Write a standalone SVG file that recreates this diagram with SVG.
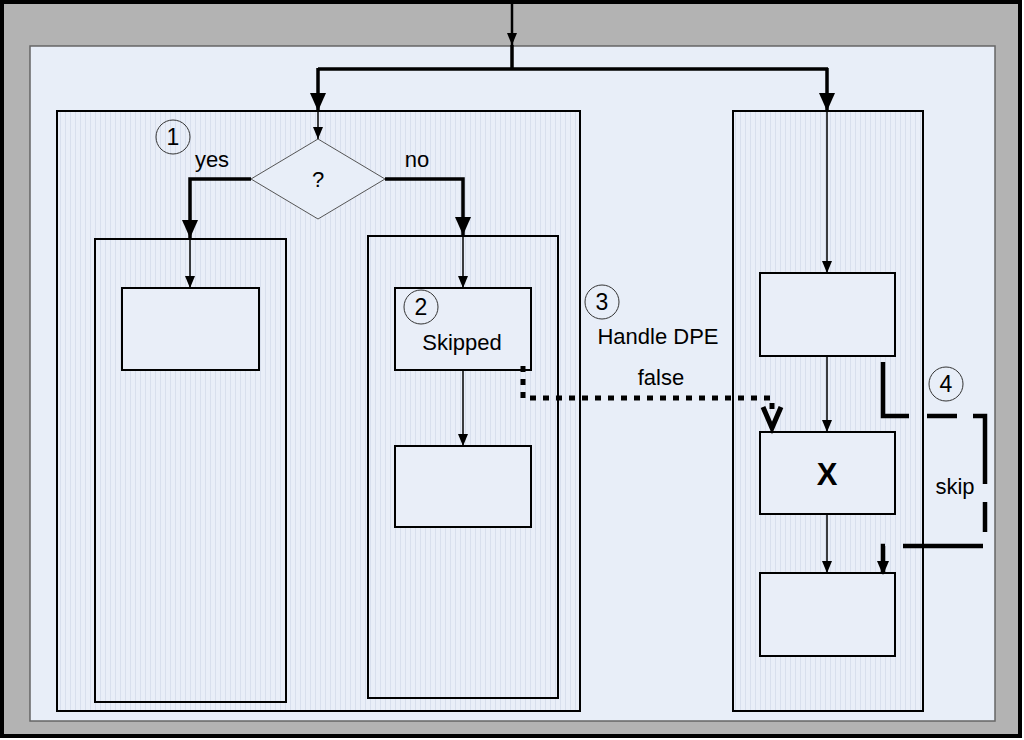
<svg xmlns="http://www.w3.org/2000/svg" width="1024" height="740" viewBox="0 0 1024 740">
<defs>
<pattern id="stripes" width="5" height="10" patternUnits="userSpaceOnUse">
<rect width="5" height="10" fill="#e9eef8"/>
<rect x="0" width="1" height="10" fill="#d8dfed"/>
</pattern>
<marker id="ah" markerWidth="12" markerHeight="12" viewBox="0 0 12 12" refX="12" refY="6" orient="auto" markerUnits="userSpaceOnUse">
<path d="M0,1 L12,6 L0,11 Z" fill="#000"/>
</marker>
<marker id="ahb" markerWidth="18" markerHeight="16" viewBox="0 0 18 16" refX="18" refY="8" orient="auto" markerUnits="userSpaceOnUse">
<path d="M0,0 L18,8 L0,16 Z" fill="#000"/>
</marker>
<marker id="ahs" markerWidth="14" markerHeight="14" viewBox="0 0 14 14" refX="14" refY="7" orient="auto" markerUnits="userSpaceOnUse">
<path d="M0,1 L14,7 L0,13 Z" fill="#000"/>
</marker>
</defs>
<style>
.box{fill:#e9eef8;stroke:#000;stroke-width:2}
.cont{fill:url(#stripes);stroke:#000;stroke-width:2}
.thin{fill:none;stroke:#000;stroke-width:1.5}
.thick{fill:none;stroke:#000;stroke-width:3.5}
.circ{fill:none;stroke:#333;stroke-width:1}
text{font-family:"Liberation Sans",Arial,sans-serif;fill:#000}
.lbl{font-size:22px}
.num{font-size:23px;text-anchor:middle}
</style>
<g id="frame">
<rect x="2" y="2" width="1018" height="734" fill="#b3b3b3" stroke="#000" stroke-width="4"/>
<rect x="30" y="46" width="965" height="675" fill="#e8eef8" stroke="#666" stroke-width="1.5"/>
</g>
<g id="left-container"><rect class="cont" x="57" y="111" width="523" height="600"/></g>
<g id="right-container"><rect class="cont" x="733" y="111" width="190" height="600"/></g>
<g id="yes-container"><rect class="cont" x="95" y="239" width="191" height="463"/></g>
<g id="no-container"><rect class="cont" x="368" y="236" width="190" height="462"/></g>
<g id="decision">
<polygon points="318,139 385,179 318,219 251,179" fill="#e8eef8" stroke="#555" stroke-width="1"/>
<text class="lbl" x="318" y="187" text-anchor="middle">?</text>
</g>
<g id="marker1"><circle class="circ" cx="173" cy="137" r="17"/><text class="num" x="173" y="145">1</text></g>
<g id="box-a1"><rect class="box" x="122" y="288" width="137" height="82"/></g>
<g id="box-b1">
<rect class="box" x="395" y="288" width="136" height="82"/>
<circle class="circ" cx="421" cy="307" r="17"/><text class="num" x="421" y="315">2</text>
<text class="lbl" x="462" y="350" text-anchor="middle">Skipped</text>
</g>
<g id="box-b2"><rect class="box" x="395" y="446" width="136" height="81"/></g>
<g id="box-r1"><rect class="box" x="760" y="273" width="135" height="83"/></g>
<g id="box-x"><rect class="box" x="760" y="432" width="135" height="82"/><text x="827" y="485" font-size="31" font-weight="bold" text-anchor="middle">X</text></g>
<g id="box-r3"><rect class="box" x="760" y="573" width="135" height="83"/></g>
<g id="label3">
<circle class="circ" cx="602" cy="302" r="17"/><text class="num" x="602" y="310">3</text>
<text class="lbl" x="658" y="344" text-anchor="middle">Handle DPE</text>
<text class="lbl" x="661" y="385" text-anchor="middle">false</text>
</g>
<g id="label4">
<circle class="circ" cx="946" cy="384" r="17"/><text class="num" x="946" y="392">4</text>
<text class="lbl" x="955" y="494" text-anchor="middle">skip</text>
</g>
<g id="labels">
<text class="lbl" x="212" y="167" text-anchor="middle">yes</text>
<text class="lbl" x="417" y="167" text-anchor="middle">no</text>
</g>
<g id="connectors">
<path fill="none" stroke="#000" stroke-width="2.5" d="M512,0 V45" marker-end="url(#ah)"/>
<path class="thick" d="M512,45 V69"/>
<path class="thick" d="M318,69 H828"/>
<path class="thick" d="M318,68 V111" marker-end="url(#ahb)"/>
<path class="thick" d="M827,68 V111" marker-end="url(#ahb)"/>
<path class="thin" d="M318,111 V139" marker-end="url(#ah)"/>
<path class="thick" d="M251,179 H190 V238" marker-end="url(#ahb)"/>
<path class="thick" d="M385,179 H463 V235" marker-end="url(#ahb)"/>
<path class="thin" d="M190,239 V288" marker-end="url(#ah)"/>
<path class="thin" d="M463,236 V288" marker-end="url(#ah)"/>
<path class="thin" d="M463,370 V446" marker-end="url(#ah)"/>
<path class="thin" d="M827,111 V273" marker-end="url(#ah)"/>
<path class="thin" d="M827,356 V432" marker-end="url(#ah)"/>
<path class="thin" d="M827,514 V573" marker-end="url(#ah)"/>
<path d="M523,366 V398 H772 V412" fill="none" stroke="#000" stroke-width="5" stroke-dasharray="6,7"/>
<path d="M763,407 L772,428 L781,407" fill="none" stroke="#000" stroke-width="5"/>
<path d="M883,362 V416 H985 V546 H883 V575" fill="none" stroke="#000" stroke-width="4.5" stroke-dasharray="80,18,30,16" marker-end="url(#ahs)"/>
</g>
</svg>
